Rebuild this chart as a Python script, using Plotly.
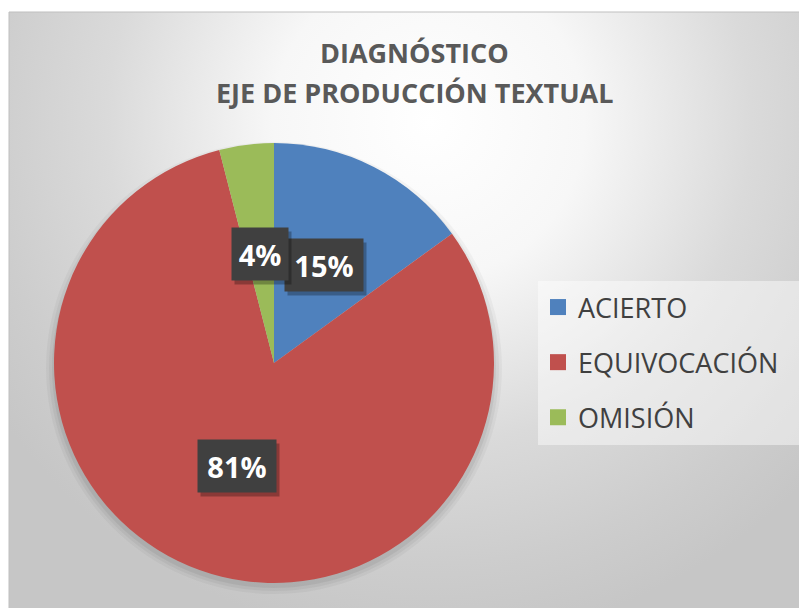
import math
import base64
import plotly.graph_objects as go

# ---- data ----
categories = ["ACIERTO", "EQUIVOCACIÓN", "OMISIÓN"]
values = [15, 81, 4]
colors = ["#4F81BD", "#C0504D", "#9BBB59"]
title_lines = ["DIAGNÓSTICO", "EJE DE PRODUCCIÓN TEXTUAL"]

W, H = 807, 608
FONT = "Open Sans"
OX, OY = 8, 8  # page body margin offset


def px_x(x):
    return (x - OX) / W


def px_y(y):
    return 1 - (y - OY) / H


# pie geometry (screen pixels)
CX, CY, R = 274, 363, 220
dom_x = [px_x(CX - R), px_x(CX + R)]
dom_y = [px_y(CY + R), px_y(CY - R)]

# background gradient (chart area)
bx0, by0, bx1, by1 = 9, 12, 815, 616
bw, bh = bx1 - bx0, by1 - by0
svg = f'''<svg xmlns="http://www.w3.org/2000/svg" width="{bw}" height="{bh}">
<defs><radialGradient id="g" gradientUnits="userSpaceOnUse" cx="420" cy="110" r="520" fx="420" fy="110">
<stop offset="0" stop-color="#ffffff"/>
<stop offset="0.30" stop-color="#f7f7f7"/>
<stop offset="0.62" stop-color="#dadada"/>
<stop offset="0.85" stop-color="#cdcdcd"/>
<stop offset="1" stop-color="#c6c6c6"/>
</radialGradient></defs>
<rect x="0" y="0" width="{bw}" height="{bh}" fill="url(#g)"/>
</svg>'''
src = "data:image/svg+xml;base64," + base64.b64encode(svg.encode()).decode()

fig = go.Figure()
fig.add_trace(go.Pie(
    labels=categories, values=values, sort=False, direction="clockwise", rotation=0,
    marker=dict(colors=colors, line=dict(width=0)),
    textinfo="none", hoverinfo="label+percent", showlegend=False,
    domain=dict(x=dom_x, y=dom_y),
))

# legend entries
for c, col in zip(categories, colors):
    fig.add_trace(go.Scatter(
        x=[None], y=[None], mode="markers", name=c, legendgroup=c,
        marker=dict(symbol="square", size=16, color=col),
    ))

# slice labels with dark boxes, positioned from the data
total = sum(values)
ann = []
cum = 0
for v in values:
    mid = (cum + v / 2) / total * 2 * math.pi
    cum += v
    sx = CX + 0.5 * R * math.sin(mid)
    sy = CY - 0.5 * R * math.cos(mid)
    txt = f"{round(v / total * 100)}%"
    w = 22 * len(txt)
    common = dict(xref="paper", yref="paper", x=px_x(sx), y=px_y(sy),
                  showarrow=False, width=w, height=40, borderpad=6,
                  xanchor="center", yanchor="middle")
    ann.append(dict(text=f"<b>{txt}</b>", font=dict(family=FONT, size=29, color="rgba(0,0,0,0)"),
                    bgcolor="rgba(0,0,0,0.28)", xshift=3, yshift=-4, **common))
    ann.append(dict(text=f"<b>{txt}</b>", font=dict(family=FONT, size=29, color="#ffffff"),
                    bgcolor="#404040", **common))

# title (two lines)
for line, ty in zip(title_lines, [52, 93]):
    ann.append(dict(text=f"<b>{line}</b>", xref="paper", yref="paper",
                    x=px_x(414), y=px_y(ty), xanchor="center", yanchor="middle", showarrow=False,
                    font=dict(family=FONT, size=27, color="#595959")))

shapes = []
# soft pie shadow (mostly below the pie)
for k, a in [(9, 0.035), (6, 0.045), (3, 0.055)]:
    shapes.append(dict(type="circle", xref="paper", yref="paper", layer="below",
                       x0=px_x(CX - R - k + 1), x1=px_x(CX + R + k - 1),
                       y0=px_y(CY + R + k + 2), y1=px_y(CY - R - k + 8),
                       fillcolor=f"rgba(0,0,0,{a})", line=dict(width=0)))
# legend background
shapes.append(dict(type="rect", xref="paper", yref="paper", layer="below",
                   x0=px_x(538), x1=px_x(804), y0=px_y(445), y1=px_y(281),
                   fillcolor="rgba(255,255,255,0.45)", line=dict(width=0)))
# chart border
shapes.append(dict(type="rect", xref="paper", yref="paper", layer="above",
                   x0=px_x(bx0), x1=px_x(bx1), y0=px_y(bx1), y1=px_y(by0),
                   line=dict(color="#bfbfbf", width=1), fillcolor="rgba(0,0,0,0)"))

fig.update_layout(
    width=W, height=H, margin=dict(l=0, r=0, t=0, b=0),
    paper_bgcolor="#ffffff", plot_bgcolor="rgba(0,0,0,0)",
    xaxis=dict(visible=False), yaxis=dict(visible=False),
    images=[dict(source=src, xref="paper", yref="paper", x=px_x(bx0), y=px_y(by0),
                 sizex=bw / W, sizey=bh / H, sizing="stretch", xanchor="left", yanchor="top",
                 layer="below")],
    shapes=shapes, annotations=ann,
    legend=dict(x=px_x(538), y=px_y(283), xanchor="left", yanchor="top",
                bgcolor="rgba(0,0,0,0)", borderwidth=0,
                font=dict(family=FONT, size=27, color="#404040"),
                tracegroupgap=17, itemsizing="trace", itemwidth=30),
    showlegend=True,
)

fig.write_html("out.html")
